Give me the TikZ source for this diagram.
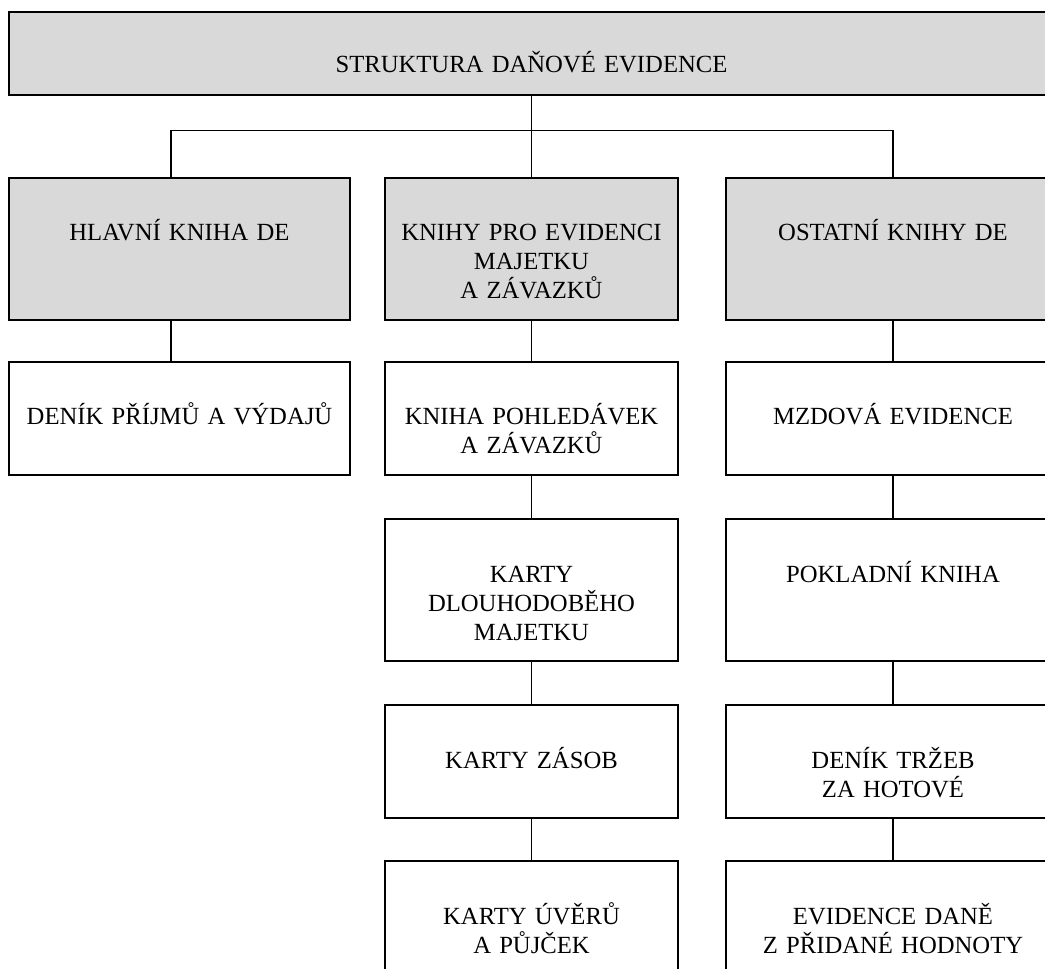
\documentclass[tikz,border=0pt]{standalone}
\usepackage{fontspec}
\setmainfont{Liberation Serif}
\usepackage{tikz}
\definecolor{sedaDE}{HTML}{D9D9D9}

\begin{document}
\begin{tikzpicture}[x=0.75pt,y=-0.75pt,
  kniha/.style={draw,line width=2.2pt,fill=white,inner sep=0pt,align=center,
    font=\fontsize{18.5}{21.75}\selectfont,text height=47.25pt},
  vysoka/.style={kniha,text depth=59.25pt},
  nizka/.style={kniha,text depth=37.5pt},
  seda/.style={fill=sedaDE},
  vlevo/.style={text width=255.75pt},
  stred/.style={text width=219.75pt},
  vpravo/.style={text width=250.5pt},
  spoj/.style={line width=0.8pt}]
  \useasboundingbox (0,0) rectangle (1045,969);
  \clip (0,0) rectangle (1045,969);
  \node[draw,line width=1pt,fill=sedaDE,inner sep=0pt,text width=783.75pt,align=center,
    font=\fontsize{18.5}{21.75}\selectfont,text height=45.75pt,text depth=16.5pt]
    (struktura) at (531.5,53.5) {STRUKTURA DAŇOVÉ EVIDENCE};
  \node[vysoka,seda,vlevo] (hlavni) at (179.5,249) {HLAVNÍ KNIHA DE};
  \node[vysoka,seda,stred] (majetek) at (531.5,249) {KNIHY PRO EVIDENCI\\MAJETKU\\A ZÁVAZKŮ};
  \node[vysoka,seda,vpravo] (ostatni) at (893,249) {OSTATNÍ KNIHY DE};
  \node[nizka,vlevo] (denik) at (179.5,418.5) {DENÍK PŘÍJMŮ A VÝDAJŮ};
  \node[nizka,stred] (pohledavky) at (531.5,418.5) {KNIHA POHLEDÁVEK\\A ZÁVAZKŮ};
  \node[vysoka,stred] (dlouhodoby) at (531.5,590) {KARTY\\DLOUHODOBĚHO\\MAJETKU};
  \node[nizka,stred] (zasoby) at (531.5,761.5) {KARTY ZÁSOB};
  \node[vysoka,stred] (uvery) at (531.5,932) {KARTY ÚVĚRŮ\\A PŮJČEK};
  \node[nizka,vpravo] (mzdy) at (893,418.5) {MZDOVÁ EVIDENCE};
  \node[vysoka,vpravo] (pokladna) at (893,590) {POKLADNÍ KNIHA};
  \node[nizka,vpravo] (trzby) at (893,761.5) {DENÍK TRŽEB\\ZA HOTOVÉ};
  \node[vysoka,vpravo] (dph) at (893,932) {EVIDENCE DANĚ\\Z PŘIDANÉ HODNOTY};
  \draw[spoj] (struktura.south) -- (majetek.north);
  \draw[spoj] ([xshift=-6.4pt]hlavni.north) -- ++(0,-46) -| (ostatni.north);
  \draw[spoj] ([xshift=-6.4pt]hlavni.south) -- ([xshift=-6.4pt]denik.north);
  \foreach \a/\b in {majetek/pohledavky,pohledavky/dlouhodoby,dlouhodoby/zasoby,zasoby/uvery,
    ostatni/mzdy,mzdy/pokladna,pokladna/trzby,trzby/dph}
    \draw[spoj] (\a.south) -- (\b.north);
\end{tikzpicture}
\end{document}
